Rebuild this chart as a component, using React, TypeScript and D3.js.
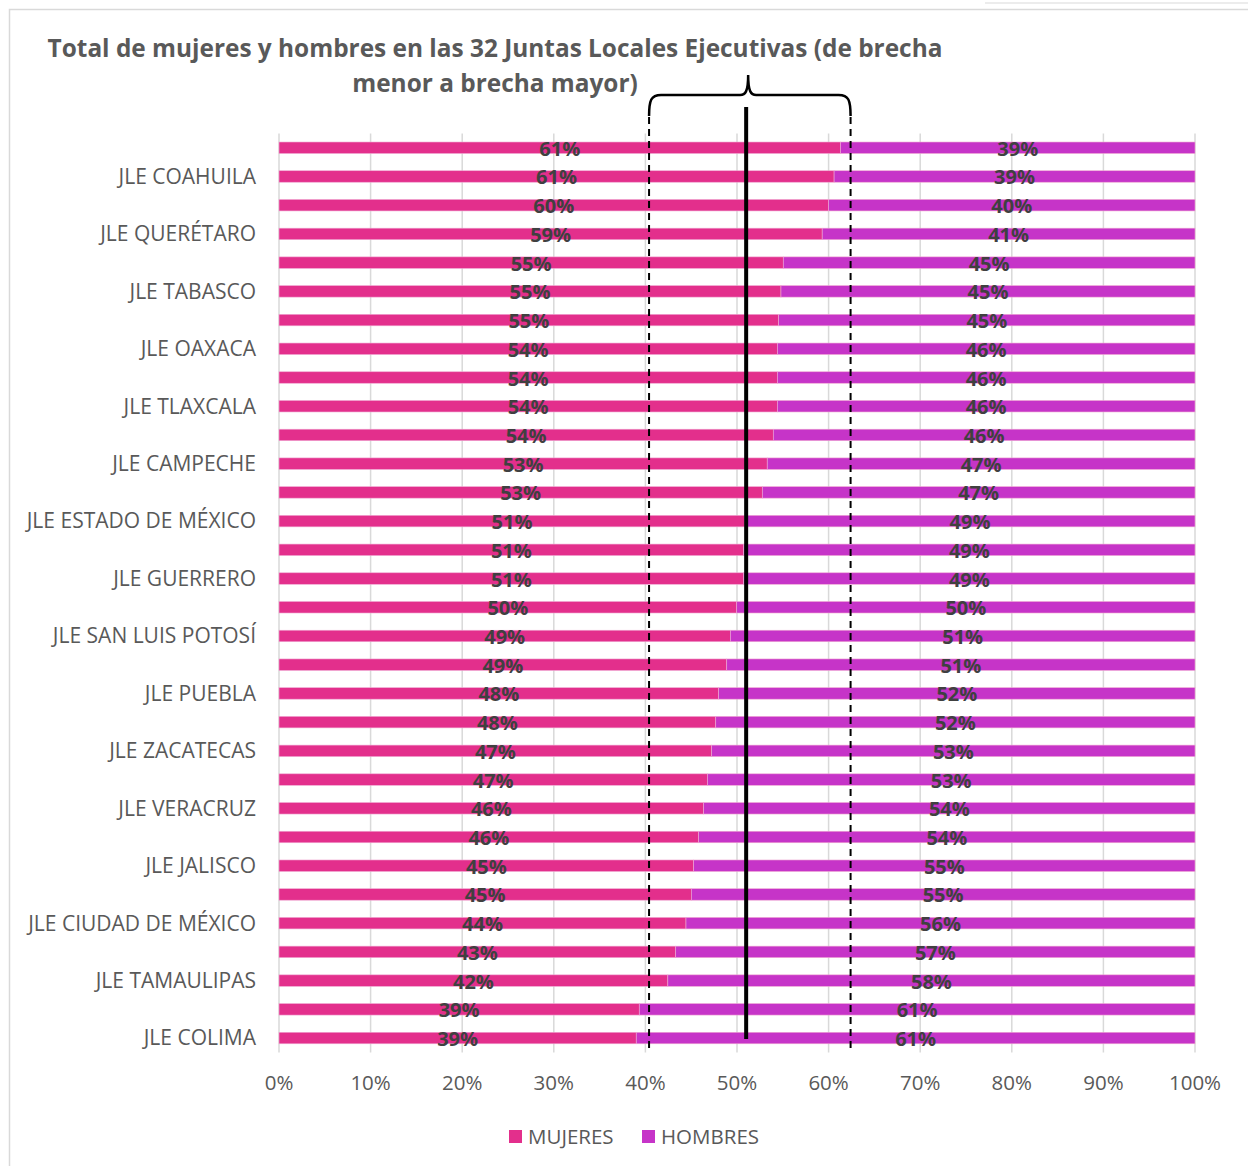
import React from "react";
import * as d3 from "d3";

const categories = [
  "JLE NUEVO LEÓN", "JLE COAHUILA", "JLE SONORA", "JLE QUERÉTARO", "JLE CHIHUAHUA",
  "JLE TABASCO", "JLE YUCATÁN", "JLE OAXACA", "JLE HIDALGO", "JLE TLAXCALA",
  "JLE SINALOA", "JLE CAMPECHE", "JLE DURANGO", "JLE ESTADO DE MÉXICO", "JLE MORELOS",
  "JLE GUERRERO", "JLE NAYARIT", "JLE SAN LUIS POTOSÍ", "JLE CHIAPAS", "JLE PUEBLA",
  "JLE GUANAJUATO", "JLE ZACATECAS", "JLE MICHOACÁN", "JLE VERACRUZ", "JLE AGUASCALIENTES",
  "JLE JALISCO", "JLE QUINTANA ROO", "JLE CIUDAD DE MÉXICO", "JLE BAJA CALIFORNIA", "JLE TAMAULIPAS",
  "JLE BAJA CALIFORNIA SUR", "JLE COLIMA",
];
const mujeres = [
  61.3, 60.6, 60.0, 59.3, 55.05, 54.8, 54.55, 54.4, 54.4, 54.4,
  53.96, 53.3, 52.76, 50.87, 50.73, 50.73, 49.97, 49.27, 48.88, 48.0,
  47.68, 47.24, 46.76, 46.36, 45.82, 45.27, 45.01, 44.43, 43.31, 42.45,
  39.33, 39.0,
];
const hombres = mujeres.map((m) => 100 - m);
const xTicks = [0, 10, 20, 30, 40, 50, 60, 70, 80, 90, 100];
const series = ["MUJERES", "HOMBRES"];
const colors = ["#E32F8C", "#C634C8"];
const refSolid = 51.0;
const refDashLow = 40.4;
const refDashHigh = 62.4;

const FONT = "'Open Sans', Lato, sans-serif";

export default function App() {
  const W = 1248;
  const H = 1166;
  const x = d3.scaleLinear().domain([0, 100]).range([279, 1195]);
  const y = d3
    .scaleBand<string>()
    .domain(categories)
    .range([133.4, 1052.4])
    .paddingInner(0.6)
    .paddingOuter(0.3);
  const bw = y.bandwidth();
  const stack = d3
    .stack<any>()
    .keys(["m", "h"])(categories.map((c, i) => ({ c, m: mujeres[i], h: hombres[i] })));

  const yTop = 133.4;
  const yBot = 1052.4;
  const xl = x(refDashLow);
  const xh = x(refDashHigh);
  const xc = x(refSolid) + 2;
  const bTop = 95;
  const brace = `M${xl},116 C${xl},100 ${xl + 2},${bTop} ${xl + 12},${bTop} L${xc - 8},${bTop} C${xc - 3},${bTop} ${xc},${bTop - 3} ${xc},${bTop - 20} C${xc},${bTop - 3} ${xc + 3},${bTop} ${xc + 8},${bTop} L${xh - 12},${bTop} C${xh - 2},${bTop} ${xh},100 ${xh},116`;

  return (
    <svg width={W} height={H} style={{ position: "absolute", left: 0, top: 0, background: "#fff" }}>
      <rect x={9.5} y={9.5} width={1260} height={1200} fill="#fff" stroke="#D9D9D9" strokeWidth={1.5} />
      <line x1={985} x2={1248} y1={3} y2={3} stroke="#E6E6E6" strokeWidth={1.5} />
      <text x={495} y={57} textAnchor="middle" fontFamily={FONT} fontWeight="bold" fontSize={24.4} fill="#595959">
        Total de mujeres y hombres en las 32 Juntas Locales Ejecutivas (de brecha
      </text>
      <text x={495} y={92} textAnchor="middle" fontFamily={FONT} fontWeight="bold" fontSize={24.4} fill="#595959">
        menor a brecha mayor)
      </text>

      {xTicks.map((t) => (
        <line key={"g" + t} x1={x(t)} x2={x(t)} y1={yTop} y2={yBot} stroke="#D9D9D9" strokeWidth={1.5} />
      ))}

      {stack.map((s, si) =>
        s.map((d, i) => (
          <rect
            key={si + "-" + i}
            x={x(d[0])}
            y={y(categories[i])!}
            width={x(d[1]) - x(d[0])}
            height={bw}
            fill={colors[si]}
            stroke="#F0A8D2"
            strokeWidth={0.6}
          />
        ))
      )}

      {categories.map((c, i) =>
        i % 2 === 1 ? (
          <text
            key={"c" + i}
            x={256}
            y={y(c)! + bw / 2}
            dy="0.35em"
            textAnchor="end"
            fontFamily={FONT}
            fontSize={21}
            fill="#595959"
          >
            {c}
          </text>
        ) : null
      )}

      {xTicks.map((t) => (
        <text key={"t" + t} x={x(t)} y={1090} textAnchor="middle" fontFamily={FONT} fontSize={20.5} fill="#595959">
          {t}%
        </text>
      ))}

      <line x1={xl} x2={xl} y1={117} y2={1048} stroke="#000" strokeWidth={2} strokeDasharray="7,5" />
      <line x1={xh} x2={xh} y1={117} y2={1048} stroke="#000" strokeWidth={2} strokeDasharray="7,5" />
      <line x1={x(refSolid)} x2={x(refSolid)} y1={107} y2={1039} stroke="#000" strokeWidth={4} />
      <path d={brace} fill="none" stroke="#000" strokeWidth={2.5} />

      {stack.map((s, si) =>
        s.map((d, i) => (
          <text
            key={"l" + si + "-" + i}
            x={x((d[0] + d[1]) / 2)}
            y={y(categories[i])! + bw / 2 + 1}
            dy="0.35em"
            textAnchor="middle"
            fontFamily={FONT}
            fontWeight="bold"
            fontSize={20}
            fill="#404040"
          >
            {Math.round(d[1] - d[0])}%
          </text>
        ))
      )}

      {series.map((s, i) => (
        <g key={s} transform={`translate(${i === 0 ? 509 : 642},1137)`}>
          <rect x={0} y={-7} width={13} height={13} fill={colors[i]} />
          <text x={19} y={0} dy="0.35em" fontFamily={FONT} fontSize={20.5} fill="#595959">
            {s}
          </text>
        </g>
      ))}
    </svg>
  );
}
